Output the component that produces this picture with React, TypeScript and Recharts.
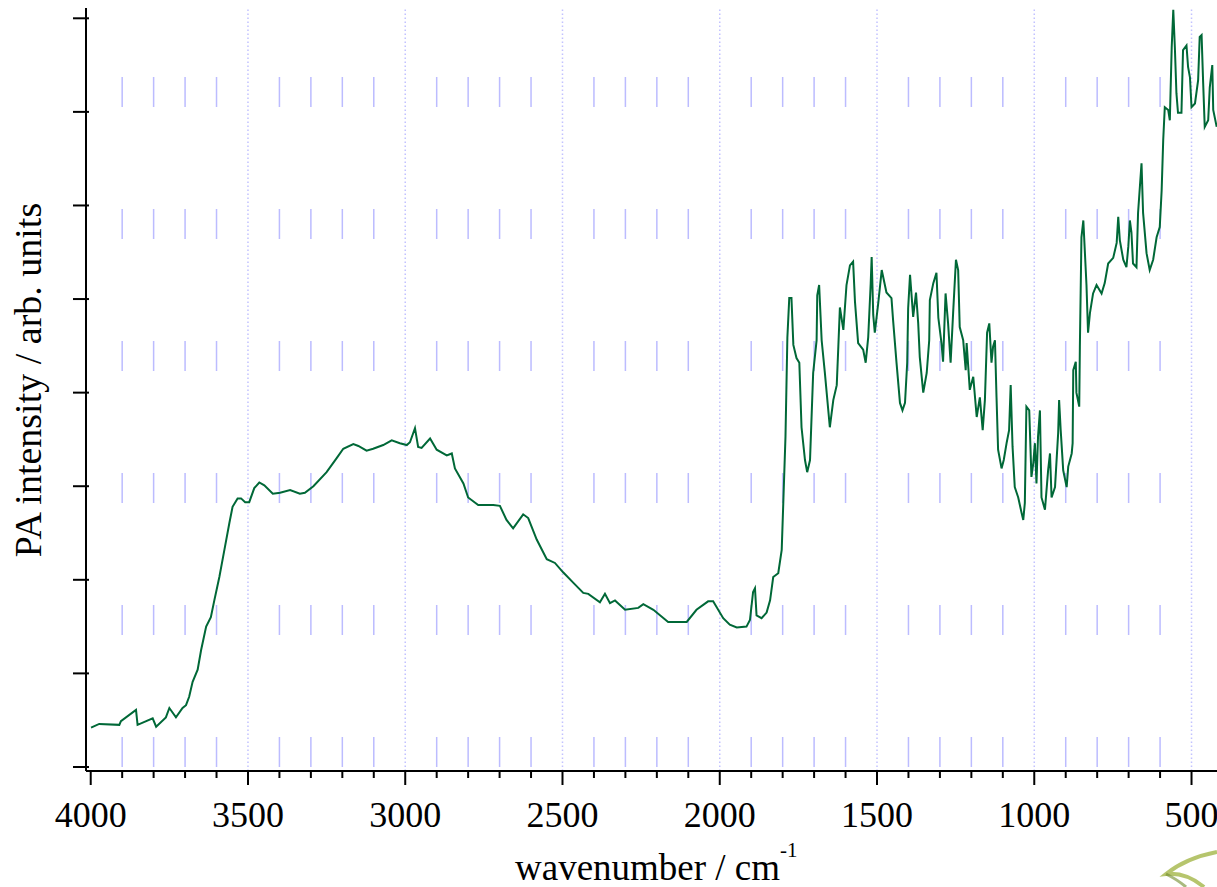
import { LineChart, Line, XAxis, YAxis, ReferenceLine } from "recharts";

// PA spectrum (intensity in y-tick units)
const wavenumber = [
  3999, 3973, 3909, 3904, 3856, 3851, 3803, 3792, 3761, 3750,
  3729, 3708, 3697, 3687, 3676, 3660, 3649, 3633, 3618, 3607,
  3591, 3575, 3559, 3549, 3533, 3522, 3509, 3496, 3480, 3464,
  3448, 3421, 3398, 3366, 3335, 3319, 3292, 3250, 3218, 3197,
  3165, 3149, 3123, 3102, 3070, 3043, 3017, 2995, 2985, 2969,
  2959, 2948, 2921, 2900, 2868, 2852, 2842, 2815, 2800, 2768,
  2720, 2699, 2678, 2657, 2625, 2609, 2582, 2550, 2524, 2498,
  2466, 2434, 2418, 2381, 2365, 2349, 2333, 2301, 2259, 2243,
  2211, 2164, 2105, 2074, 2037, 2021, 1989, 1968, 1946, 1915,
  1904, 1894, 1888, 1883, 1867, 1851, 1840, 1830, 1814, 1803,
  1798, 1791, 1785, 1779, 1772, 1766, 1756, 1747, 1740, 1729,
  1722, 1713, 1703, 1692, 1690, 1684, 1676, 1666, 1650, 1639,
  1628, 1623, 1618, 1607, 1597, 1586, 1576, 1570, 1560, 1544,
  1536, 1528, 1520, 1517, 1512, 1507, 1496, 1485, 1470, 1454,
  1449, 1438, 1427, 1419, 1411, 1404, 1401, 1395, 1385, 1376,
  1369, 1364, 1353, 1342, 1334, 1332, 1321, 1311, 1305, 1295,
  1290, 1282, 1274, 1266, 1258, 1249, 1242, 1237, 1226, 1218,
  1215, 1205, 1194, 1183, 1173, 1164, 1157, 1150, 1143, 1136,
  1131, 1125, 1120, 1115, 1104, 1097, 1088, 1080, 1075, 1069,
  1062, 1051, 1040, 1035, 1030, 1025, 1016, 1009, 1003, 998,
  993, 988, 982, 977, 966, 956, 950, 945, 934, 924,
  921, 916, 908, 897, 892, 881, 878, 876, 868, 866,
  857, 855, 850, 844, 834, 829, 823, 813, 802, 786,
  776, 765, 749, 738, 733, 728, 717, 707, 701, 696,
  691, 686, 675, 670, 659, 654, 643, 633, 622, 611,
  601, 595, 590, 585, 574, 569, 563, 558, 553, 548,
  543, 532, 527, 516, 511, 505, 500, 489, 479, 474,
  468, 463, 458, 447, 442, 434, 431, 420,
];

const intensity = [
  0.42, 0.46, 0.45, 0.49, 0.61, 0.45, 0.52, 0.43, 0.53, 0.63,
  0.53, 0.63, 0.66, 0.75, 0.91, 1.04, 1.25, 1.5, 1.6, 1.78,
  2.03, 2.32, 2.61, 2.78, 2.87, 2.87, 2.83, 2.83, 2.98, 3.04,
  3.01, 2.92, 2.93, 2.96, 2.92, 2.93, 3.0, 3.15, 3.3, 3.4,
  3.45, 3.43, 3.38, 3.4, 3.44, 3.49, 3.46, 3.44, 3.47, 3.62,
  3.42, 3.41, 3.51, 3.39, 3.33, 3.35, 3.19, 3.03, 2.88, 2.8,
  2.8, 2.79, 2.64, 2.55, 2.7, 2.66, 2.43, 2.22, 2.18, 2.08,
  1.97, 1.86, 1.85, 1.76, 1.85, 1.75, 1.78, 1.68, 1.7, 1.74,
  1.68, 1.55, 1.55, 1.68, 1.77, 1.77, 1.59, 1.52, 1.49, 1.5,
  1.57, 1.87, 1.91, 1.62, 1.59, 1.65, 1.78, 2.03, 2.07, 2.32,
  2.82, 3.53, 4.59, 5.01, 5.01, 4.51, 4.37, 4.32, 3.63, 3.28,
  3.15, 3.28, 4.21, 4.56, 5.04, 5.15, 4.56, 4.22, 3.63, 3.92,
  4.08, 4.49, 4.91, 4.67, 5.15, 5.36, 5.4, 4.97, 4.53, 4.46,
  4.32, 4.59, 5.17, 5.45, 4.83, 4.64, 4.96, 5.31, 5.07, 5.01,
  4.78, 4.32, 3.89, 3.81, 3.89, 4.32, 4.9, 5.26, 4.81, 5.07,
  4.74, 4.38, 4.0, 4.21, 4.56, 4.99, 5.17, 5.28, 4.8, 4.53,
  4.33, 5.06, 4.74, 4.32, 4.85, 5.42, 5.31, 4.7, 4.56, 4.24,
  4.53, 4.03, 4.17, 3.74, 3.95, 3.6, 3.92, 4.64, 4.74, 4.32,
  4.49, 4.56, 3.95, 3.39, 3.19, 3.28, 3.46, 3.6, 4.08, 3.42,
  2.99, 2.88, 2.71, 2.64, 2.82, 3.85, 3.81, 3.1, 3.25, 3.46,
  3.03, 3.53, 3.81, 2.88, 2.75, 3.17, 3.35, 2.88, 2.99, 3.57,
  3.92, 3.6, 3.17, 2.99, 3.21, 3.35, 3.46, 4.24, 4.33, 4.0,
  3.85, 4.49, 5.66, 5.84, 5.15, 4.64, 4.85, 5.06, 5.15, 5.06,
  5.17, 5.38, 5.44, 5.6, 5.88, 5.63, 5.42, 5.34, 5.56, 5.84,
  5.71, 5.38, 5.34, 5.92, 6.45, 5.92, 5.49, 5.31, 5.42, 5.66,
  5.77, 6.16, 6.7, 7.05, 7.02, 6.91, 7.69, 8.09, 7.69, 7.2,
  6.99, 6.99, 7.66, 7.71, 7.48, 7.37, 7.05, 7.09, 7.34, 7.8,
  7.82, 7.31, 6.84, 6.91, 7.26, 7.5, 7.02, 6.84,
];

const xTicks = [
  4000, 3900, 3800, 3700, 3600, 3500, 3400, 3300, 3200, 3100,
  3000, 2900, 2800, 2700, 2600, 2500, 2400, 2300, 2200, 2100,
  2000, 1900, 1800, 1700, 1600, 1500, 1400, 1300, 1200, 1100,
  1000, 900, 800, 700, 600, 500,
];
const majorTicks = [4000, 3500, 3000, 2500, 2000, 1500, 1000, 500];
const yTicks = [0, 1, 2, 3, 4, 5, 6, 7, 8];

const X_DOMAIN: [number, number] = [419, 4015];
const Y_DOMAIN: [number, number] = [-0.043, 8.11];

const FONT = '"Liberation Serif", "Times New Roman", serif';

const data = wavenumber
  .slice(0, Math.min(wavenumber.length, intensity.length))
  .map((w, i) => ({ w, v: intensity[i] }));

const dottedLines = majorTicks.filter((t) => t !== 4000);
const dashLines = xTicks.filter((t) => t % 500 !== 0);

function XTick(props: any) {
  const { x, y, payload } = props;
  const major = majorTicks.includes(payload.value);
  return (
    <g>
      <line x1={x} y1={y} x2={x} y2={y + (major ? 14 : 7)} stroke="#000" strokeWidth={2} />
      {major && (
        <text x={x} y={y + 56} textAnchor="middle" fontSize={36} fontFamily={FONT} fill="#000">
          {payload.value}
        </text>
      )}
    </g>
  );
}

// y ticks: only the tick mark, no label
function YTick(props: any) {
  const { x, y } = props;
  return <line x1={x - 13} y1={y} x2={x + 3} y2={y} stroke="#000" strokeWidth={2} />;
}

const XTitle = () => (
  <text x={515} y={880} fontSize={37} fontFamily={FONT} fill="#000">
    wavenumber / cm
    <tspan fontSize={21} dy={-23}>-1</tspan>
  </text>
);

const YTitle = () => (
  <text
    x={41}
    y={380}
    transform="rotate(-90 41 380)"
    textAnchor="middle"
    fontSize={38}
    fontFamily={FONT}
    fill="#000"
  >
    PA intensity / arb. units
  </text>
);

export default function App() {
  return (
    <div style={{ position: "absolute", left: 0, top: 0, width: 1217, height: 887, background: "#fff" }}>
      <LineChart width={1217} height={887} data={data} margin={{ top: 8, right: 0, bottom: 0, left: 0 }}>
        <XAxis
          type="number"
          dataKey="w"
          domain={X_DOMAIN}
          reversed
          allowDataOverflow
          ticks={xTicks}
          interval={0}
          tick={<XTick />}
          tickLine={false}
          tickSize={0}
          tickMargin={0}
          axisLine={{ stroke: "#000", strokeWidth: 2 }}
          height={116}
          label={{ content: XTitle }}
        />
        <YAxis
          type="number"
          domain={Y_DOMAIN}
          allowDataOverflow
          ticks={yTicks}
          interval={0}
          tick={<YTick />}
          tickLine={false}
          tickSize={0}
          tickMargin={0}
          axisLine={{ stroke: "#000", strokeWidth: 2 }}
          width={86}
          label={{ content: YTitle }}
        />
        {dottedLines.map((t) => (
          <ReferenceLine
            key={`d${t}`}
            segment={[{ x: t, y: Y_DOMAIN[0] }, { x: t, y: Y_DOMAIN[1] }]}
            stroke="#c2c2ff"
            strokeWidth={1.5}
            strokeDasharray="1.5 2.5"
          />
        ))}
        {dashLines.map((t) => (
          <ReferenceLine
            key={`m${t}`}
            segment={[{ x: t, y: Y_DOMAIN[0] }, { x: t, y: Y_DOMAIN[1] }]}
            stroke="#bcbcff"
            strokeWidth={1.5}
            strokeDasharray="30 102"
            strokeDashoffset={128}
          />
        ))}
        <Line
          type="linear"
          dataKey="v"
          stroke="#006837"
          strokeWidth={2}
          dot={false}
          isAnimationActive={false}
        />
      </LineChart>
      <svg width={1217} height={887} style={{ position: "absolute", left: 0, top: 0, pointerEvents: "none" }}>
        <path d="M1217 852 Q1186 858 1166 874 Q1186 872 1204 887" fill="none" stroke="#9db23c" strokeWidth={4} opacity={0.75} />
        <path d="M1166 874 Q1178 880 1186 887" fill="none" stroke="#6f8a2a" strokeWidth={3} opacity={0.6} />
      </svg>
    </div>
  );
}
